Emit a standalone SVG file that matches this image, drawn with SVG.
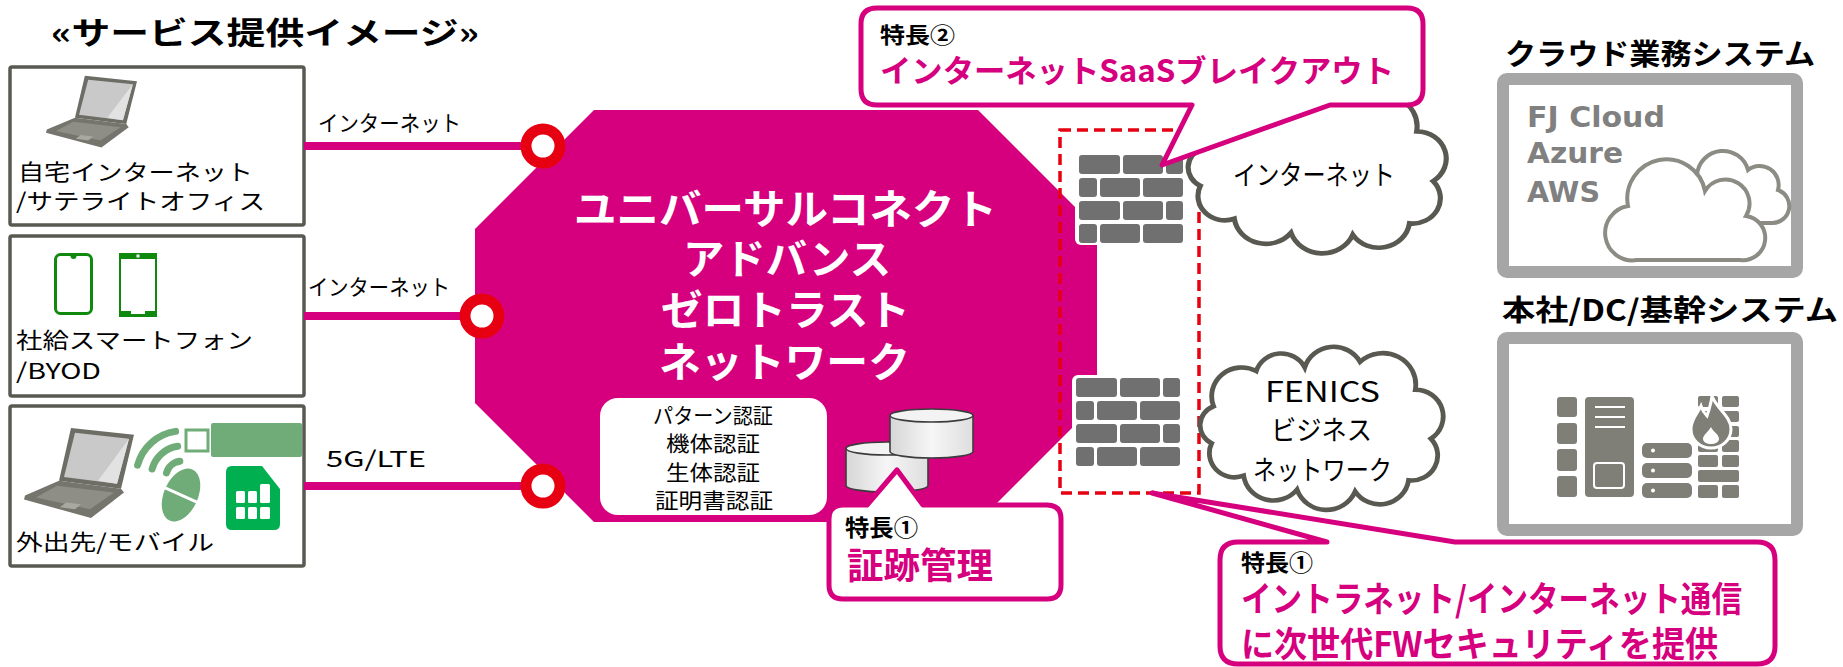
<svg xmlns="http://www.w3.org/2000/svg" width="1843" height="667" viewBox="0 0 1843 667">
<style>
  text { font-family: "Noto Sans CJK JP", "Noto Sans", sans-serif; fill: #000; }
  .b { font-weight: 700; }
  .mag { fill: #d6007f; }
  .wht { fill: #fff; }
  .dev { fill: #fff; stroke: #595952; stroke-width: 3.5; }
  .link { stroke: #d6007f; stroke-width: 8; fill: none; }
  .ring { fill: #fff; stroke: #e60012; stroke-width: 11; }
  .callout { fill: #fff; stroke: #d6007f; stroke-width: 5; stroke-linejoin: round; }
  .cloud { fill: #fff; stroke: #595952; stroke-width: 5; }
  .sys { fill: #fff; stroke: #a6a6a6; stroke-width: 12; }
  .brick { fill: #707070; }
  .srv { fill: #7f7f78; }
  .green { fill: #6fac78; }
  .gl { fill: none; stroke: #6fac78; stroke-width: 7; stroke-linecap: round; }
  .ph { fill: #fff; stroke: #0f8a0f; }
  .cyl { fill: url(#cylGrad); stroke: #3c3c3c; stroke-width: 1.6; }
  .cyltop { fill: #f3f3f3; stroke: #3c3c3c; stroke-width: 1.6; }
  .icl { fill: #fff; stroke: #8c8c84; stroke-width: 4; }
</style>
<defs>
  <linearGradient id="cylGrad" x1="0" y1="0" x2="1" y2="0">
    <stop offset="0" stop-color="#d6d6d6"/>
    <stop offset="0.5" stop-color="#f6f6f6"/>
    <stop offset="1" stop-color="#dedede"/>
  </linearGradient>
  <symbol id="laptop" viewBox="0 0 110 95" preserveAspectRatio="none">
    <polygon points="47,1 110,8 97,63 35,55" fill="#6d6d66"/>
    <polygon points="51,6 105,12 93,58 40,51" fill="#c9c9c9"/>
    <polygon points="105,12 93,58 74,55" fill="#e2e2e2"/>
    <polygon points="35,55 97,63 100,67 67,93 0,74 1,70" fill="#75756e"/>
    <polygon points="33,60 90,67 66,84 12,72" fill="#8e8e87"/>
    <polygon points="42,77 57,79 51,84 36,82" fill="#a8a8a1"/>
  </symbol>
  <symbol id="fw" viewBox="0 0 112 93" preserveAspectRatio="none">
    <rect x="0" y="0" width="112" height="93" rx="6" fill="#fff"/>
    <rect class="brick" x="4" y="3" width="41" height="19" rx="3"/>
    <rect class="brick" x="48" y="3" width="40" height="19" rx="3"/>
    <rect class="brick" x="91" y="3" width="17" height="19" rx="3"/>
    <rect class="brick" x="4" y="26" width="18" height="19" rx="3"/>
    <rect class="brick" x="25" y="26" width="40" height="19" rx="3"/>
    <rect class="brick" x="68" y="26" width="40" height="19" rx="3"/>
    <rect class="brick" x="4" y="49" width="41" height="19" rx="3"/>
    <rect class="brick" x="48" y="49" width="40" height="19" rx="3"/>
    <rect class="brick" x="91" y="49" width="17" height="19" rx="3"/>
    <rect class="brick" x="4" y="72" width="18" height="19" rx="3"/>
    <rect class="brick" x="25" y="72" width="40" height="19" rx="3"/>
    <rect class="brick" x="68" y="72" width="40" height="19" rx="3"/>
  </symbol>
  <path id="cloudShape" d="M14 60 A31 31 0 0 1 58 22 A27 27 0 0 1 108 18 A31 31 0 0 1 165 12 A34 34 0 0 1 222 42 A29 29 0 0 1 238 95 A27 27 0 0 1 215 140 A30 30 0 0 1 160 152 A32 32 0 0 1 100 150 A31 31 0 0 1 45 135 A26 26 0 0 1 12 100 A22 22 0 0 1 14 60 Z"/>
</defs>

<rect x="0" y="0" width="1843" height="667" fill="#fff"/>

<!-- heading -->
<g id="heading">
  <text class="b" x="51" y="44" font-size="31" textLength="428" lengthAdjust="spacingAndGlyphs">«サービス提供イメージ»</text>
</g>

<!-- client sites -->
<g id="node-home">
  <rect class="dev" x="10" y="67" width="294" height="158" rx="2"/>
  <use href="#laptop" x="46" y="75" width="91" height="74"/>
  <text x="18" y="180" font-size="22" textLength="235" lengthAdjust="spacingAndGlyphs">自宅インターネット</text>
  <text x="16" y="209" font-size="22" textLength="249" lengthAdjust="spacingAndGlyphs">/サテライトオフィス</text>
</g>

<g id="node-smartphone">
  <rect class="dev" x="10" y="236" width="294" height="160" rx="2"/>
  <rect class="ph" x="55.5" y="254.5" width="36" height="59" rx="5" stroke-width="3"/>
  <circle cx="73.5" cy="256" r="3" fill="#0f8a0f"/>
  <rect class="ph" x="120" y="254" width="36" height="62" stroke-width="2"/>
  <rect x="120" y="253" width="36" height="6" fill="#0f8a0f"/>
  <rect x="136.5" y="254.5" width="3" height="3" fill="#fff"/>
  <rect x="120" y="311" width="36" height="6" fill="#0f8a0f"/>
  <rect x="131" y="311" width="14" height="3" fill="#fff"/>
  <text x="16" y="348" font-size="22" textLength="237" lengthAdjust="spacingAndGlyphs">社給スマートフォン</text>
  <text x="16" y="379" font-size="22" textLength="85" lengthAdjust="spacingAndGlyphs">/BYOD</text>
</g>

<g id="node-mobile">
  <rect class="dev" x="10" y="406" width="294" height="160" rx="2"/>
  <use href="#laptop" x="24" y="427" width="110" height="93"/>
  <path class="gl" d="M137.6 465.1 A46 46 0 0 1 175.6 431.4"/>
  <path class="gl" d="M152.1 469 A31 31 0 0 1 177.7 446.3"/>
  <path class="gl" d="M166.5 472.9 A16 16 0 0 1 179.8 461.2"/>
  <rect x="186" y="430" width="22" height="21" fill="#fff" stroke="#6fac78" stroke-width="3"/>
  <rect class="green" x="211" y="423" width="91" height="34" rx="2"/>
  <g transform="translate(181 495) rotate(24)">
    <ellipse class="green" cx="0" cy="0" rx="17" ry="28"/>
    <line x1="-18" y1="0" x2="18" y2="0" stroke="#fff" stroke-width="3"/>
  </g>
  <path d="M232 466 L262 466 L280 489 L280 524 Q280 530 274 530 L232 530 Q226 530 226 524 L226 472 Q226 466 232 466 Z" fill="#00b050"/>
  <g fill="#fff">
    <rect x="236" y="491" width="9" height="12" rx="1.5"/>
    <rect x="248" y="491" width="9" height="12" rx="1.5"/>
    <rect x="260" y="484" width="10" height="19" rx="1.5"/>
    <rect x="236" y="507" width="9" height="12" rx="1.5"/>
    <rect x="248" y="507" width="9" height="12" rx="1.5"/>
    <rect x="260" y="507" width="10" height="12" rx="1.5"/>
  </g>
  <text x="16" y="550" font-size="22" textLength="198" lengthAdjust="spacingAndGlyphs">外出先/モバイル</text>
</g>

<!-- zero trust network core -->
<g id="node-ztn">
  <polygon points="594,110 978,110 1097,229 1097,403 978,522 594,522 475,403 475,229" fill="#d6007f"/>
  <text class="b wht" x="574" y="224" font-size="41" textLength="423" lengthAdjust="spacingAndGlyphs">ユニバーサルコネクト</text>
  <text class="b wht" x="683" y="274" font-size="41" textLength="208" lengthAdjust="spacingAndGlyphs">アドバンス</text>
  <text class="b wht" x="661" y="325" font-size="41" textLength="249" lengthAdjust="spacingAndGlyphs">ゼロトラスト</text>
  <text class="b wht" x="659" y="377" font-size="41" textLength="251" lengthAdjust="spacingAndGlyphs">ネットワーク</text>
  <rect x="600" y="398" width="227" height="117" rx="18" fill="#fff"/>
  <text x="653" y="423" font-size="21" textLength="120" lengthAdjust="spacingAndGlyphs">パターン認証</text>
  <text x="666" y="451" font-size="21" textLength="94" lengthAdjust="spacingAndGlyphs">機体認証</text>
  <text x="666" y="480" font-size="21" textLength="94" lengthAdjust="spacingAndGlyphs">生体認証</text>
  <text x="655" y="508" font-size="21" textLength="118" lengthAdjust="spacingAndGlyphs">証明書認証</text>
  <!-- log storage -->
  <path class="cyl" d="M846 448.5 L846 485.5 A41 6.5 0 0 0 928 485.5 L928 448.5 Z"/>
  <ellipse class="cyltop" cx="887" cy="448.5" rx="41" ry="6.5"/>
  <path class="cyl" d="M890 415.5 L890 451.5 A41.5 6.5 0 0 0 973 451.5 L973 415.5 Z"/>
  <ellipse class="cyltop" cx="931.5" cy="415.5" rx="41.5" ry="6.5"/>
</g>

<!-- access links -->
<g id="connectors">
  <line class="link" x1="304" y1="146" x2="530" y2="146"/>
  <line class="link" x1="304" y1="316" x2="470" y2="316"/>
  <line class="link" x1="304" y1="486" x2="530" y2="486"/>
  <circle class="ring" cx="543" cy="146" r="17"/>
  <circle class="ring" cx="482" cy="316" r="17"/>
  <circle class="ring" cx="543" cy="486" r="17"/>
  <text x="318" y="131" font-size="22" textLength="143" lengthAdjust="spacingAndGlyphs">インターネット</text>
  <text x="308" y="295" font-size="22" textLength="142" lengthAdjust="spacingAndGlyphs">インターネット</text>
  <text x="326" y="467" font-size="22" textLength="100" lengthAdjust="spacingAndGlyphs">5G/LTE</text>
</g>

<!-- next-generation firewall area -->
<g id="node-firewalls">
  <rect x="1060" y="130" width="139" height="363" fill="none" stroke="#e60012" stroke-width="3.5" stroke-dasharray="11 6"/>
  <use href="#fw" x="1075" y="152" width="112" height="93"/>
  <use href="#fw" x="1072" y="375" width="112" height="93"/>
</g>

<!-- external networks -->
<g id="node-internet">
  <use href="#cloudShape" class="cloud" transform="translate(1188 91.8) scale(1.03 0.94)" vector-effect="non-scaling-stroke"/>
  <text x="1233" y="185" font-size="27" textLength="162" lengthAdjust="spacingAndGlyphs">インターネット</text>
</g>

<g id="node-fenics">
  <use href="#cloudShape" class="cloud" transform="translate(1200 350.7) scale(0.97 0.926)" vector-effect="non-scaling-stroke"/>
  <text x="1265" y="402" font-size="29" textLength="115" lengthAdjust="spacingAndGlyphs">FENICS</text>
  <text x="1271" y="440" font-size="27" textLength="101" lengthAdjust="spacingAndGlyphs">ビジネス</text>
  <text x="1253" y="480" font-size="27" textLength="139" lengthAdjust="spacingAndGlyphs">ネットワーク</text>
</g>

<!-- destination systems -->
<g id="node-cloud-systems">
  <text class="b" x="1505" y="65" font-size="29" textLength="310" lengthAdjust="spacingAndGlyphs">クラウド業務システム</text>
  <rect class="sys" x="1503" y="79" width="294" height="193" rx="4"/>
  <text x="1527" y="127" font-size="29" font-weight="700" fill="#808080" style="font-family:'DejaVu Sans',sans-serif;fill:#808080" textLength="138" lengthAdjust="spacingAndGlyphs">FJ Cloud</text>
  <text x="1527" y="163" font-size="29" font-weight="700" style="font-family:'DejaVu Sans',sans-serif;fill:#808080" textLength="96" lengthAdjust="spacingAndGlyphs">Azure</text>
  <text x="1527" y="202" font-size="29" font-weight="700" style="font-family:'DejaVu Sans',sans-serif;fill:#808080" textLength="73" lengthAdjust="spacingAndGlyphs">AWS</text>
  <path class="icl" d="M1705 223 L1772 223 A17 17 0 0 0 1778 190 A19 19 0 0 0 1748 170 A26 26 0 0 0 1697 175 A25 25 0 0 0 1705 223 Z"/>
  <path class="icl" d="M1637 260 L1740 260 A22 22 0 0 0 1746 216 A23 23 0 0 0 1705 191 A39 39 0 0 0 1628 206 A24 24 0 0 0 1637 260 Z"/>
</g>

<g id="node-hq-systems">
  <text class="b" x="1502" y="321" font-size="29" textLength="336" lengthAdjust="spacingAndGlyphs">本社/DC/基幹システム</text>
  <rect class="sys" x="1503" y="338" width="294" height="192" rx="4"/>
  <rect class="srv" x="1557" y="397" width="20" height="20" rx="3"/>
  <rect class="srv" x="1557" y="423" width="20" height="21" rx="3"/>
  <rect class="srv" x="1557" y="449" width="20" height="22" rx="3"/>
  <rect class="srv" x="1557" y="476" width="20" height="21" rx="3"/>
  <rect class="srv" x="1585" y="397" width="49" height="100" rx="4"/>
  <g stroke="#fff" stroke-width="2" fill="none">
    <line x1="1595" y1="407" x2="1625" y2="407"/>
    <line x1="1595" y1="417" x2="1625" y2="417"/>
    <line x1="1595" y1="427" x2="1625" y2="427"/>
    <rect x="1594" y="463" width="30" height="25" rx="3"/>
  </g>
  <rect class="srv" x="1642" y="443" width="50" height="15" rx="5"/>
  <rect class="srv" x="1642" y="463" width="50" height="15" rx="5"/>
  <rect class="srv" x="1642" y="483" width="50" height="15" rx="5"/>
  <g fill="#fff">
    <circle cx="1653" cy="450.5" r="2"/>
    <circle cx="1653" cy="470.5" r="2"/>
    <circle cx="1653" cy="490.5" r="2"/>
  </g>
  <rect class="srv" x="1698" y="396" width="20" height="11" rx="2"/>
  <rect class="srv" x="1722" y="396" width="17" height="11" rx="2"/>
  <rect class="srv" x="1698" y="411" width="20" height="11" rx="2"/>
  <rect class="srv" x="1722" y="411" width="17" height="11" rx="2"/>
  <rect class="srv" x="1698" y="426" width="20" height="11" rx="2"/>
  <rect class="srv" x="1722" y="426" width="17" height="11" rx="2"/>
  <rect class="srv" x="1698" y="440" width="20" height="12" rx="2"/>
  <rect class="srv" x="1722" y="440" width="17" height="12" rx="2"/>
  <rect class="srv" x="1698" y="455" width="20" height="12" rx="2"/>
  <rect class="srv" x="1722" y="455" width="17" height="12" rx="2"/>
  <rect class="srv" x="1698" y="470" width="41" height="12" rx="2"/>
  <rect class="srv" x="1698" y="485" width="20" height="13" rx="2"/>
  <rect class="srv" x="1722" y="485" width="17" height="13" rx="2"/>
  <path class="srv" stroke="#fff" stroke-width="3" d="M1712 396 C1716 408 1731 416 1731 429 C1731 440 1722 448 1711 448 C1700 448 1691 440 1691 429 C1691 419 1698 413 1701 406 C1703 412 1705 414 1707 416 C1709 410 1711 404 1712 396 Z"/>
  <path fill="#fff" d="M1711 427 C1713 432 1719 434 1719 439 C1719 442 1715 444 1711 444 C1707 444 1703 442 1703 439 C1703 435 1708 432 1711 427 Z"/>
</g>

<!-- feature callouts -->
<g id="callout-saas-breakout">
  <path class="callout" d="M877 8 L1407 8 Q1423 8 1423 24 L1423 89 Q1423 105 1407 105 L1330 105 L1162 165 L1192 105 L877 105 Q861 105 861 89 L861 24 Q861 8 877 8 Z"/>
  <text class="b" x="880" y="43" font-size="22" textLength="75" lengthAdjust="spacingAndGlyphs">特長②</text>
  <text class="b mag" x="880" y="82" font-size="31" textLength="514" lengthAdjust="spacingAndGlyphs">インターネットSaaSブレイクアウト</text>
</g>

<g id="callout-log">
  <path class="callout" d="M843 505 L867 505 L897 470 L923 505 L1047 505 Q1061 505 1061 519 L1061 585 Q1061 599 1047 599 L843 599 Q829 599 829 585 L829 519 Q829 505 843 505 Z"/>
  <text class="b" x="845" y="536" font-size="23" textLength="73" lengthAdjust="spacingAndGlyphs">特長①</text>
  <text class="b mag" x="847" y="579" font-size="36" textLength="146" lengthAdjust="spacingAndGlyphs">証跡管理</text>
</g>

<g id="callout-ngfw">
  <path class="callout" d="M1238 542 L1327 542 L1152 493 L1455 542 L1757 542 Q1775 542 1775 560 L1775 646 Q1775 664 1757 664 L1238 664 Q1220 664 1220 646 L1220 560 Q1220 542 1238 542 Z"/>
  <text class="b" x="1241" y="571" font-size="23" textLength="72" lengthAdjust="spacingAndGlyphs">特長①</text>
  <text class="b mag" x="1241" y="612" font-size="35" textLength="501" lengthAdjust="spacingAndGlyphs">イントラネット/インターネット通信</text>
  <text class="b mag" x="1241" y="657" font-size="35" textLength="477" lengthAdjust="spacingAndGlyphs">に次世代FWセキュリティを提供</text>
</g>
</svg>
